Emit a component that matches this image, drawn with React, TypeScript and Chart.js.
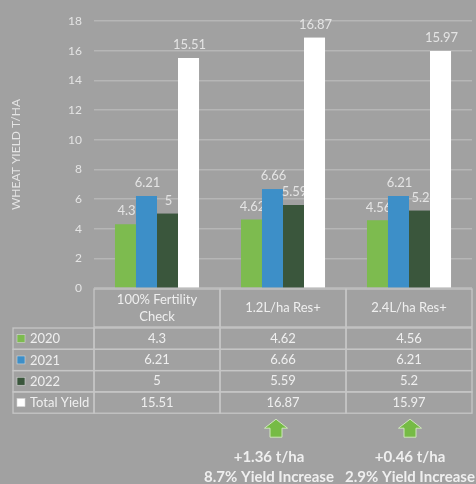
import { useEffect, useRef } from "react";
import { Chart, registerables } from "chart.js";

Chart.register(...registerables);

// ---- data ----
const categories: string[][] = [["100% Fertility", "Check"], ["1.2L/ha Res+"], ["2.4L/ha Res+"]];
const seriesNames = ["2020", "2021", "2022", "Total Yield"];
const values2020 = [4.3, 4.62, 4.56];
const values2021 = [6.21, 6.66, 6.21];
const values2022 = [5, 5.59, 5.2];
const totalYield = [15.51, 16.87, 15.97];
const increaseAmounts = ["", "+1.36 t/ha", "+0.46 t/ha"];
const increasePercents = ["", "8.7% Yield Increase", "2.9% Yield Increase"];
const yAxisTitle = "WHEAT YIELD T/HA";
const yMin = 0;
const yMax = 18;
const yStep = 2;

// ---- styles ----
const FONT = "Lato, 'DejaVu Sans', sans-serif";
const BG = "#a1a1a1";
const GRID = "#b6b6b6";
const BORDER = "#c6c6c6";
const TEXT = "#e4e4e4";
const TEXT_BRIGHT = "#efefef";
const COLORS = ["#7dbb4f", "#3d8fc8", "#3a563c", "#ffffff"];
const ARROW_COLOR = "#76bb45";
// small manual shifts of the annotations (px), as placed in the original slide
const TEXT_SHIFT = [0, -14, 1];
const ARROW_SHIFT = [0, -7, 1];

const seriesValues = [values2020, values2021, values2022, totalYield];

const barLabelPlugin = {
  id: "barLabels",
  afterDatasetsDraw(chart: any) {
    const ctx: CanvasRenderingContext2D = chart.ctx;
    chart.data.datasets.forEach((ds: any, i: number) => {
      const meta = chart.getDatasetMeta(i);
      if (i > 0) meta.data.forEach((el: any) => el.draw(ctx));
      ctx.save();
      ctx.font = `13px ${FONT}`;
      ctx.fillStyle = TEXT;
      ctx.textAlign = "center";
      ctx.textBaseline = "middle";
      meta.data.forEach((el: any, j: number) => {
        ctx.fillText(String(ds.data[j]), el.x + 1, el.y - 13);
      });
      ctx.restore();
    });
  },
};

const tablePlugin = {
  id: "dataTable",
  afterDraw(chart: any) {
    const ctx: CanvasRenderingContext2D = chart.ctx;
    const area = chart.chartArea;
    const xs = chart.scales.x;
    const n = categories.length;
    const colW = (area.right - area.left) / n;
    const top = area.bottom + 1;
    const headerH = 38;
    const rowH = 21.3;
    const legendLeft = 13;
    const rowsTop = top + headerH + 1;

    ctx.save();
    ctx.strokeStyle = BORDER;
    ctx.lineWidth = 1.3;
    // header cells
    for (let i = 0; i < n; i++) {
      ctx.strokeRect(area.left + i * colW, top, colW, headerH);
    }
    // data rows
    for (let r = 0; r < seriesNames.length; r++) {
      const y = rowsTop + r * rowH;
      ctx.strokeRect(legendLeft, y, area.left - legendLeft, rowH);
      for (let i = 0; i < n; i++) {
        ctx.strokeRect(area.left + i * colW, y, colW, rowH);
      }
    }

    ctx.font = `13px ${FONT}`;
    ctx.textBaseline = "middle";
    ctx.fillStyle = TEXT_BRIGHT;
    ctx.textAlign = "center";
    // header text
    categories.forEach((lines, i) => {
      const cx = xs.getPixelForValue(i);
      const lh = 17;
      const startY = top + headerH / 2 - ((lines.length - 1) * lh) / 2;
      lines.forEach((line, k) => ctx.fillText(line, cx, startY + k * lh));
    });
    // values
    seriesValues.forEach((vals, r) => {
      const cy = rowsTop + r * rowH + rowH / 2;
      vals.forEach((v, i) => {
        ctx.fillText(String(v), xs.getPixelForValue(i), cy);
      });
    });
    // legend column
    ctx.textAlign = "left";
    seriesNames.forEach((name, r) => {
      const cy = rowsTop + r * rowH + rowH / 2;
      ctx.fillStyle = COLORS[r];
      ctx.fillRect(legendLeft + 4, cy - 4, 8, 8);
      ctx.strokeStyle = "#d8d8d8";
      ctx.lineWidth = 0.6;
      ctx.strokeRect(legendLeft + 4, cy - 4, 8, 8);
      ctx.fillStyle = TEXT_BRIGHT;
      ctx.fillText(name, legendLeft + 17, cy + 0.5);
    });

    // annotations below the table
    const tableBottom = rowsTop + seriesNames.length * rowH;
    increaseAmounts.forEach((amt, i) => {
      if (!amt) return;
      const cx = xs.getPixelForValue(i);
      const ax = cx + ARROW_SHIFT[i];
      const aTop = tableBottom + 6;
      const headW = 23;
      const shaftW = 12;
      const headH = 9;
      const totalH = 18;
      ctx.beginPath();
      ctx.moveTo(ax, aTop);
      ctx.lineTo(ax + headW / 2, aTop + headH);
      ctx.lineTo(ax + shaftW / 2, aTop + headH);
      ctx.lineTo(ax + shaftW / 2, aTop + totalH);
      ctx.lineTo(ax - shaftW / 2, aTop + totalH);
      ctx.lineTo(ax - shaftW / 2, aTop + headH);
      ctx.lineTo(ax - headW / 2, aTop + headH);
      ctx.closePath();
      ctx.fillStyle = ARROW_COLOR;
      ctx.fill();
      ctx.strokeStyle = "#cfe6bd";
      ctx.lineWidth = 1;
      ctx.stroke();

      const tx = cx + TEXT_SHIFT[i];
      ctx.fillStyle = TEXT_BRIGHT;
      ctx.textAlign = "center";
      ctx.font = `bold 15px ${FONT}`;
      ctx.fillText(amt, tx, tableBottom + 44);
      ctx.fillText(increasePercents[i], tx, tableBottom + 64);
    });
    ctx.restore();
  },
};

export default function App() {
  const ref = useRef<HTMLCanvasElement | null>(null);

  useEffect(() => {
    if (!ref.current) return;
    const chart = new Chart(ref.current, {
      type: "bar",
      data: {
        labels: categories.map((l) => l.join(" ")),
        datasets: seriesNames.map((name, i) => ({
          label: name,
          data: seriesValues[i],
          backgroundColor: COLORS[i],
          borderWidth: 0,
          categoryPercentage: 0.667,
          barPercentage: 1,
        })),
      },
      options: {
        responsive: false,
        animation: false,
        layout: { padding: { top: 21, bottom: 196, left: 0, right: 4 } },
        plugins: {
          legend: { display: false },
          tooltip: { enabled: false },
          title: { display: false },
        },
        scales: {
          x: { display: false },
          y: {
            min: yMin,
            max: yMax,
            ticks: {
              stepSize: yStep,
              color: TEXT,
              font: { family: FONT, size: 12 },
              padding: 12,
            },
            grid: { color: GRID, lineWidth: 1.5, drawTicks: false },
            border: { display: false },
            title: {
              display: true,
              text: yAxisTitle,
              color: TEXT,
              font: { family: FONT, size: 12 },
              padding: { top: 9, bottom: 0 },
            },
            afterFit: (scale: any) => {
              scale.width = 94;
            },
          },
        },
      },
      plugins: [barLabelPlugin, tablePlugin],
    } as any);
    return () => chart.destroy();
  }, []);

  return (
    <div
      style={{
        position: "fixed",
        left: 0,
        top: 0,
        width: 476,
        height: 484,
        background: BG,
        overflow: "hidden",
      }}
    >
      <canvas ref={ref} width={476} height={484} style={{ display: "block" }} />
    </div>
  );
}
